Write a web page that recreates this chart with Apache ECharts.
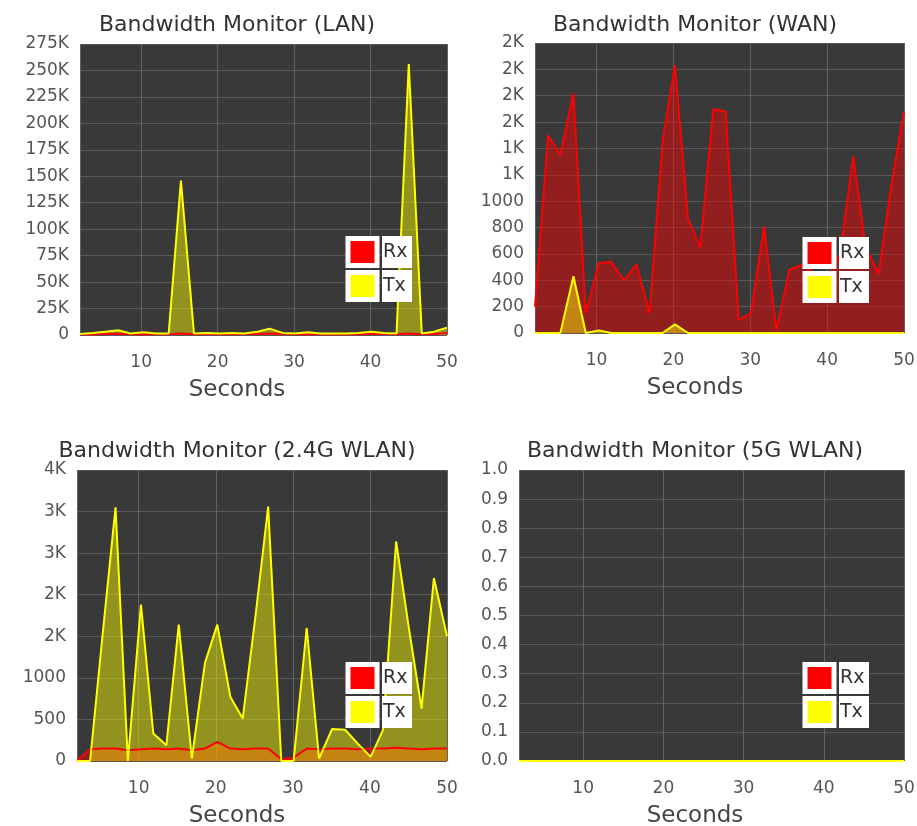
<!DOCTYPE html>
<html>
<head>
<meta charset="utf-8">
<title>Bandwidth Monitor</title>
<script src="https://cdn.jsdelivr.net/npm/echarts@6/dist/echarts.min.js"></script>
<style>
  html, body { margin: 0; padding: 0; background: #fff; }
  #chart { width: 917px; height: 826px; }
</style>
</head>
<body>
<div id="chart"></div>
<script>
// sample times in seconds, shared by the four monitors
const seconds = [2.0, 3.7, 5.3, 7.0, 8.6, 10.3, 11.9, 13.6, 15.2, 16.9,
                 18.6, 20.2, 21.9, 23.5, 25.2, 26.8, 28.5, 30.1, 31.8, 33.4,
                 35.1, 36.8, 38.4, 40.1, 41.7, 43.4, 45.0, 46.7, 48.3, 50.0];

// LAN
const lanRx = [500, 800, 1000, 1200, 800, 900, 700, 800, 1500, 800,
               900, 700, 800, 900, 1000, 1500, 900, 800, 900, 700,
               800, 900, 800, 1200, 900, 800, 1500, 800, 1000, 2000];
const lanTx = [1000, 2000, 3000, 4500, 1500, 2500, 1500, 1500, 146000, 1500,
               2000, 1500, 2000, 1500, 3000, 6000, 2000, 1500, 2500, 1500,
               1500, 1500, 2000, 3000, 2000, 1500, 256000, 1500, 3000, 7000];

// WAN
const wanRx = [200, 1500, 1350, 1820, 150, 530, 540, 400, 520, 150,
               1450, 2030, 870, 650, 1700, 1680, 100, 150, 810, 20,
               480, 520, 450, 430, 600, 1340, 650, 450, 1100, 1680];
const wanTx = [0, 0, 0, 430, 0, 20, 0, 0, 0, 0,
               0, 65, 0, 0, 0, 0, 0, 0, 0, 0,
               0, 0, 0, 0, 0, 0, 0, 0, 0, 0];

// 2.4G WLAN
const wlan24Rx = [0, 140, 150, 150, 130, 140, 150, 140, 150, 130,
                  150, 230, 150, 140, 150, 150, 20, 40, 150, 140,
                  150, 150, 140, 150, 150, 160, 150, 140, 150, 150];
const wlan24Tx = [0, 0, 1500, 3050, 0, 1880, 330, 190, 1640, 30,
                  1180, 1640, 770, 510, 1780, 3060, 0, 0, 1600, 30,
                  385, 375, 210, 50, 375, 2640, 1630, 630, 2200, 1500];

// 5G WLAN (idle)
const wlan5Rx = [0, 0, 0, 0, 0, 0, 0, 0, 0, 0, 0, 0, 0, 0, 0,
                 0, 0, 0, 0, 0, 0, 0, 0, 0, 0, 0, 0, 0, 0, 0];
const wlan5Tx = [0, 0, 0, 0, 0, 0, 0, 0, 0, 0, 0, 0, 0, 0, 0,
                 0, 0, 0, 0, 0, 0, 0, 0, 0, 0, 0, 0, 0, 0, 0];

const FONT = 'DejaVu Sans';

// values above 1000 are shown rounded in K
const fmtK = v => (v > 1000 ? Math.round(v / 1000) + 'K' : String(v));
const fmtDec = v => v.toFixed(1);

const panels = [
    { title: 'Bandwidth Monitor (LAN)', rx: lanRx, tx: lanTx, yMax: 275000, yStep: 25000, fmt: fmtK,
      grid: { left: 80, top: 44, width: 367, height: 291 }, center: 237, titleTop: 14, nameGap: 44, legend: [345.5, 236] },
    { title: 'Bandwidth Monitor (WAN)', rx: wanRx, tx: wanTx, yMax: 2200, yStep: 200, fmt: fmtK,
      grid: { left: 535, top: 43, width: 369, height: 290 }, center: 695, titleTop: 14, nameGap: 44, legend: [802.5, 237] },
    { title: 'Bandwidth Monitor (2.4G WLAN)', rx: wlan24Rx, tx: wlan24Tx, yMax: 3500, yStep: 500, fmt: fmtK,
      grid: { left: 77, top: 470, width: 370, height: 291 }, center: 237, titleTop: 440, nameGap: 44, legend: [345.5, 662] },
    { title: 'Bandwidth Monitor (5G WLAN)', rx: wlan5Rx, tx: wlan5Tx, yMax: 1, yStep: 0.1, fmt: fmtDec,
      grid: { left: 519, top: 470, width: 385, height: 291 }, center: 695, titleTop: 440, nameGap: 44, legend: [802.5, 662] },
];

const toPairs = arr => arr.map((v, i) => [seconds[i], v]);

const chart = echarts.init(document.getElementById('chart'));

const option = {
    animation: false,
    backgroundColor: '#fff',
    textStyle: { fontFamily: FONT },
    title: panels.map(p => ({
        text: p.title,
        left: p.center,
        top: p.titleTop,
        textAlign: 'center',
        padding: 0,
        textStyle: { fontFamily: FONT, fontSize: 22, fontWeight: 'normal', color: '#333' },
    })),
    legend: panels.map((p, i) => ({
        orient: 'vertical',
        left: p.legend[0],
        top: p.legend[1],
        padding: 0,
        itemGap: 2,
        itemWidth: 29,
        itemHeight: 27,
        icon: 'rect',
        selectedMode: false,
        data: ['Rx' + i, 'Tx' + i],
        formatter: name => name.slice(0, 2),
        itemStyle: { borderColor: '#fff', borderWidth: 5 },
        textStyle: {
            fontFamily: FONT, fontSize: 19, color: '#333',
            backgroundColor: '#fff', width: 29, height: 32, lineHeight: 32, padding: [0, 0, 0, 1],
        },
    })),
    grid: panels.map(p => ({
        ...p.grid,
        outerBoundsMode: 'none',
        show: true,
        backgroundColor: '#393939',
        borderWidth: 0,
    })),
    xAxis: panels.map((p, i) => {
        const shift = (p.grid.left + p.grid.width / 2) - p.center;
        return {
            type: 'value',
            gridIndex: i,
            min: 2,
            max: 50,
            splitNumber: 5,
            name: 'Seconds',
            nameLocation: 'middle',
            nameGap: p.nameGap,
            nameTextStyle: { fontFamily: FONT, fontSize: 23, color: '#444', padding: [0, shift * 2, 0, 0] },
            axisLine: { show: false },
            axisTick: { show: false },
            axisLabel: {
                margin: 19, fontSize: 17, color: '#555', fontFamily: FONT,
                formatter: v => (v % 10 === 0 ? String(v) : ''),
            },
            splitLine: { lineStyle: { color: '#636363', width: 1 } },
        };
    }),
    yAxis: panels.map((p, i) => ({
        type: 'value',
        gridIndex: i,
        min: 0,
        max: p.yMax,
        interval: p.yStep,
        axisLine: { show: false },
        axisTick: { show: false },
        axisLabel: { margin: 11, fontSize: 17, color: '#555', fontFamily: FONT, formatter: p.fmt },
        splitLine: { lineStyle: { color: '#585858', width: 1 } },
    })),
    series: panels.flatMap((p, i) => [
        {
            name: 'Rx' + i,
            type: 'line',
            xAxisIndex: i,
            yAxisIndex: i,
            data: toPairs(p.rx),
            showSymbol: false,
            clip: false,
            color: '#ff0000',
            lineStyle: { color: '#ff0000', width: 2 },
            areaStyle: { color: '#ff0000', opacity: 0.45 },
        },
        {
            name: 'Tx' + i,
            type: 'line',
            xAxisIndex: i,
            yAxisIndex: i,
            data: toPairs(p.tx),
            showSymbol: false,
            clip: false,
            color: '#ffff00',
            lineStyle: { color: '#ffff00', width: 2 },
            areaStyle: { color: '#ffff00', opacity: 0.45 },
        },
    ]),
};

chart.setOption(option);
</script>
</body>
</html>
